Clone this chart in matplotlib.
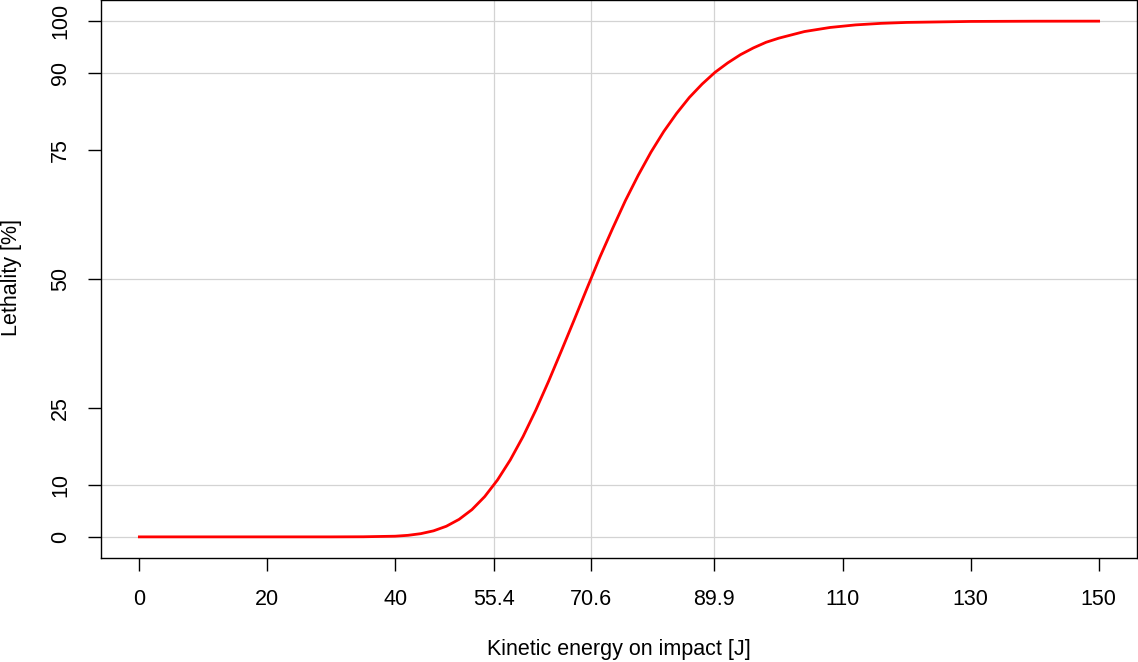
import matplotlib
matplotlib.use("Agg")
import matplotlib.pyplot as plt

# Values
energy = [0, 10, 20, 30, 35, 40, 42, 44, 46, 48, 50, 52, 54, 56, 58, 60, 62, 64,
          66, 68, 70, 72, 74, 76, 78, 80, 82, 84, 86, 88, 90, 92, 94, 96, 98,
          100, 104, 108, 112, 116, 120, 130, 140, 150]
lethality = [0.0, 0.0, 0.0, 0.0, 0.02, 0.13, 0.30, 0.62, 1.17, 2.06, 3.40, 5.28,
             7.81, 11.03, 14.92, 19.46, 24.6, 30.2, 36.1, 42.1, 48.2, 54.2, 59.8,
             65.2, 70.1, 74.6, 78.6, 82.1, 85.2, 87.8, 90.06, 91.9, 93.5, 94.8,
             95.9, 96.7, 97.98, 98.77, 99.27, 99.57, 99.75, 99.94, 99.985, 99.997]

x_ticks = [0, 20, 40, 55.4, 70.6, 89.9, 110, 130, 150]
x_tick_labels = ["0", "20", "40", "55.4", "70.6", "89.9", "110", "130", "150"]
y_ticks = [0, 10, 25, 50, 75, 90, 100]
y_tick_labels = ["0", "10", "25", "50", "75", "90", "100"]
x_grid = [55.4, 70.6, 89.9]
y_grid = [0, 10, 50, 90, 100]

plt.rcParams['font.family'] = ['Liberation Sans', 'DejaVu Sans']

W, H = 1138, 662
FS = 15.5
fig = plt.figure(figsize=(W / 100, H / 100), dpi=100)
left, right, top, bottom = 101, 1137, 0.5, 557.5
ax = fig.add_axes([left / W, 1 - bottom / H, (right - left) / W, (bottom - top) / H])

ax.set_xlim(-6, 156)
ax.set_ylim(-4, 104)

for gx in x_grid:
    ax.axvline(gx, color="#d3d3d3", lw=0.9, zorder=1)
for gy in y_grid:
    ax.axhline(gy, color="#d3d3d3", lw=0.9, zorder=1)

ax.plot(energy, lethality, color="#ff0000", lw=2.0, zorder=3)

ax.set_xticks(x_ticks)
ax.set_xticklabels(x_tick_labels, fontsize=FS)
ax.set_yticks(y_ticks)
ax.set_yticklabels(y_tick_labels, fontsize=FS, rotation=90, va="center")
ax.tick_params(axis="both", direction="out", length=9.5, width=1.0, color="black")
ax.tick_params(axis="x", pad=13)
ax.tick_params(axis="y", pad=12)

for s in ax.spines.values():
    s.set_linewidth(1.0)
    s.set_color("black")

fig.text(619 / W, 1 - 650 / H, "Kinetic energy on impact [J]", fontsize=FS,
         ha="center", va="center")
fig.text(12 / W, 1 - 278 / H, "Lethality [%]", fontsize=FS, rotation=90,
         ha="center", va="center")

fig.savefig("out.png", dpi=100)
